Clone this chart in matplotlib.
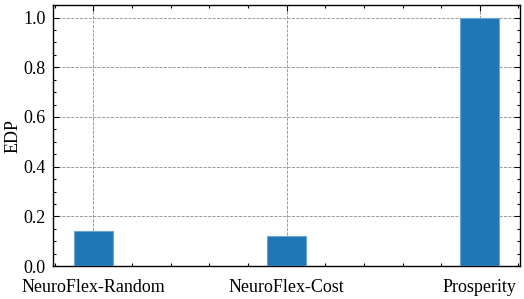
import matplotlib
matplotlib.use('Agg')
import matplotlib.pyplot as plt

methods = ['NeuroFlex-Random', 'NeuroFlex-Cost', 'Prosperity']
edp = [0.14, 0.122, 1.0]

plt.rcParams['font.family'] = 'serif'
plt.rcParams['font.serif'] = ['Liberation Serif', 'DejaVu Serif']
plt.rcParams['font.size'] = 13
plt.rcParams['axes.linewidth'] = 1.0
plt.rcParams['xtick.direction'] = 'in'
plt.rcParams['ytick.direction'] = 'in'
plt.rcParams['xtick.top'] = True
plt.rcParams['ytick.right'] = True
plt.rcParams['xtick.minor.visible'] = True
plt.rcParams['ytick.minor.visible'] = True
plt.rcParams['xtick.major.size'] = 4.5
plt.rcParams['ytick.major.size'] = 4.5
plt.rcParams['xtick.minor.size'] = 2.2
plt.rcParams['ytick.minor.size'] = 2.2
plt.rcParams['xtick.major.width'] = 0.8
plt.rcParams['ytick.major.width'] = 0.8
plt.rcParams['xtick.minor.width'] = 0.8
plt.rcParams['ytick.minor.width'] = 0.8

fig = plt.figure(figsize=(5.24, 2.99), dpi=100)
ax = fig.add_subplot(111)
x = list(range(len(methods)))
ax.bar(x, edp, width=0.2, color='#1f77b4', edgecolor='#6aa5d6', linewidth=0.8, zorder=3)
ax.set_xticks(x)
ax.set_xticklabels(methods)
ax.set_ylabel('EDP')
ax.yaxis.set_label_coords(-0.068, 0.5)
ax.grid(True, which='major', linestyle='--', color='#808080', linewidth=0.6, alpha=0.9)
ax.tick_params(axis='x', pad=9)
ax.tick_params(axis='y', pad=5)

fig.subplots_adjust(left=0.101, right=0.993, top=0.983, bottom=0.11)
fig.savefig('out.png', dpi=100)
